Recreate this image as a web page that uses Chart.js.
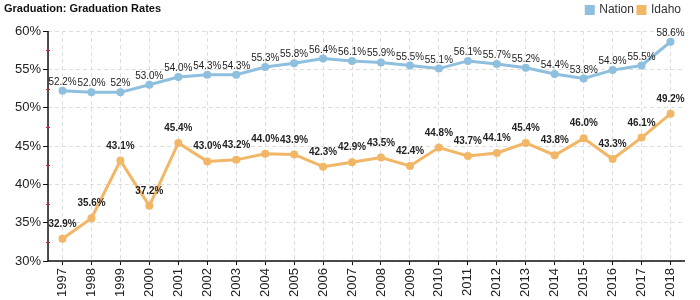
<!DOCTYPE html>
<html>
  <head>
    <title>Graduation Rates</title>
    <style>
      body { margin: 0; background: white; }
      .wrap { width: 700px; height: 300px; position: relative; }
    </style>
  </head>
  <body>
    <div class="wrap">
      <canvas id="gradChart" width="700" height="300"></canvas>
    </div>
    <script src="https://cdn.jsdelivr.net/npm/chart.js"></script>
    <script>
      var years = ['1997','1998','1999','2000','2001','2002','2003','2004','2005','2006','2007',
                   '2008','2009','2010','2011','2012','2013','2014','2015','2016','2017','2018'];

      var nationRates = [52.2, 52.0, 52.0, 53.0, 54.0, 54.3, 54.3, 55.3, 55.8, 56.4, 56.1,
                         55.9, 55.5, 55.1, 56.1, 55.7, 55.2, 54.4, 53.8, 54.9, 55.5, 58.6];
      var nationLabels = ['52.2%','52.0%','52%','53.0%','54.0%','54.3%','54.3%','55.3%','55.8%','56.4%','56.1%',
                          '55.9%','55.5%','55.1%','56.1%','55.7%','55.2%','54.4%','53.8%','54.9%','55.5%','58.6%'];

      var idahoRates = [32.9, 35.6, 43.1, 37.2, 45.4, 43.0, 43.2, 44.0, 43.9, 42.3, 42.9,
                        43.5, 42.4, 44.8, 43.7, 44.1, 45.4, 43.8, 46.0, 43.3, 46.1, 49.2];
      var idahoLabels = ['32.9%','35.6%','43.1%','37.2%','45.4%','43.0%','43.2%','44.0%','43.9%','42.3%','42.9%',
                         '43.5%','42.4%','44.8%','43.7%','44.1%','45.4%','43.8%','46.0%','43.3%','46.1%','49.2%'];

      var yTicks = [30, 35, 40, 45, 50, 55, 60];

      const nationColor = '#8fbfdf';
      const idahoColor = '#f2b766';
      const fontFamily = '"Liberation Sans", Arial, sans-serif';

      // title, solid axis lines, point labels and the small red half-step ticks
      const extras = {
        id: 'extras',
        afterInit(chart) {
          // a little room between the legend row and the plot
          const fit = chart.legend.fit;
          chart.legend.fit = function () {
            fit.call(this);
            this.height += 5;
          };
        },
        beforeDatasetsDraw(chart) {
          const ctx = chart.ctx;
          const area = chart.chartArea;
          ctx.save();
          ctx.strokeStyle = '#111';
          ctx.lineWidth = 1.5;
          ctx.beginPath();
          ctx.moveTo(area.left, area.top);
          ctx.lineTo(area.left, area.bottom);
          ctx.lineTo(area.right, area.bottom);
          ctx.stroke();
          ctx.restore();
        },
        afterDatasetsDraw(chart) {
          const ctx = chart.ctx;
          const y = chart.scales.y;
          const area = chart.chartArea;

          ctx.save();
          ctx.fillStyle = '#111';
          ctx.font = 'bold 11px ' + fontFamily;
          ctx.textBaseline = 'middle';
          ctx.textAlign = 'left';
          ctx.fillText('Graduation: Graduation Rates', 4, 9);

          ctx.strokeStyle = '#e02020';
          ctx.lineWidth = 1;
          for (let i = 0; i < yTicks.length - 1; i++) {
            const py = Math.round(y.getPixelForValue((yTicks[i] + yTicks[i + 1]) / 2)) + 0.5;
            ctx.beginPath();
            ctx.moveTo(area.left - 2, py);
            ctx.lineTo(area.left + 2, py);
            ctx.stroke();
          }

          ctx.textAlign = 'center';
          ctx.textBaseline = 'middle';
          const sx = 0.9;
          const sets = [
            { meta: chart.getDatasetMeta(0), labels: nationLabels, font: '11px ' + fontFamily, dy: -9 },
            { meta: chart.getDatasetMeta(1), labels: idahoLabels, font: 'bold 11px ' + fontFamily, dy: -15 }
          ];
          sets.forEach(function (s) {
            ctx.font = s.font;
            ctx.fillStyle = '#222';
            s.meta.data.forEach(function (pt, i) {
              ctx.save();
              ctx.translate(pt.x, pt.y + s.dy);
              ctx.scale(sx, 1);
              ctx.fillText(s.labels[i], 0, 0);
              ctx.restore();
            });
          });
          ctx.restore();
        }
      };

      new Chart(document.getElementById('gradChart'), {
        type: 'line',
        data: {
          labels: years,
          datasets: [{
            label: 'Nation',
            data: nationRates,
            borderColor: nationColor,
            backgroundColor: nationColor,
            borderWidth: 3,
            pointRadius: 4,
            pointBorderWidth: 0,
            tension: 0
          }, {
            label: 'Idaho',
            data: idahoRates,
            borderColor: idahoColor,
            backgroundColor: idahoColor,
            borderWidth: 3,
            pointRadius: 4,
            pointBorderWidth: 0,
            tension: 0
          }]
        },
        options: {
          responsive: false,
          animation: false,
          layout: { padding: { left: 13, right: 15, top: 0, bottom: 0 } },
          plugins: {
            legend: {
              position: 'top',
              align: 'end',
              labels: {
                boxWidth: 7,
                boxHeight: 7,
                padding: 4,
                color: '#333',
                font: { size: 12, family: fontFamily }
              }
            },
            tooltip: { enabled: false }
          },
          scales: {
            x: {
              offset: true,
              grid: {
                color: '#dedede',
                tickColor: '#111',
                tickLength: 4,
                offset: false
              },
              border: { display: false, dash: [4, 3] },
              ticks: {
                color: '#222',
                maxRotation: 90,
                minRotation: 90,
                autoSkip: false,
                font: { size: 13, family: fontFamily }
              }
            },
            y: {
              min: 30,
              max: 60,
              afterBuildTicks: function (axis) {
                axis.ticks = yTicks.map(function (v) { return { value: v }; });
              },
              grid: {
                color: '#dedede',
                tickColor: '#111',
                tickLength: 5
              },
              border: { display: false, dash: [4, 3] },
              ticks: {
                color: '#222',
                padding: 2,
                callback: function (v) { return v + '%'; },
                font: { size: 13, family: fontFamily }
              }
            }
          }
        },
        plugins: [extras]
      });
    </script>
  </body>
</html>
